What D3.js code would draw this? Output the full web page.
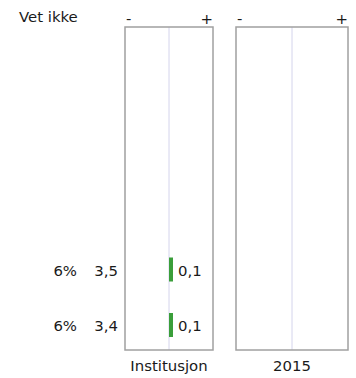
<!DOCTYPE html>
<html><head><meta charset="utf-8">
<script src="https://cdn.jsdelivr.net/npm/d3@7"></script>
<style>body{margin:0;background:#fff}svg{display:block}text{font-family:"DejaVu Sans",Verdana,sans-serif;font-size:14.9px;fill:#1a1a1a}</style>
</head><body><svg id="c" width="356" height="378"></svg>
<script>
const title = "Vet ikke";
const panels = ["Institusjon", "2015"];
const rows = ["r1", "r2"];
const pctLabels = ["6%", "6%"];
const meanLabels = ["3,5", "3,4"];
const diffValues = [0.1, 0.1];
const diffLabels = ["0,1", "0,1"];

(function(){
const svg = d3.select("#c");
const yTop = 27, yBot = 350;
const panelX = d3.scaleOrdinal().domain(panels).range([[125, 213], [236, 348]]);
const yRow = d3.scalePoint().domain(rows).range([269.5, 325]);

svg.append("text").attr("x", 19).attr("y", 22).text(title);

panels.forEach((p, pi) => {
  const [x0, x1] = panelX(p);
  const x = d3.scaleLinear().domain([-1.1, 1.1]).range([x0, x1]);
  const g = svg.append("g");
  g.append("line").attr("x1", x(0)).attr("x2", x(0)).attr("y1", yTop).attr("y2", yBot)
    .attr("stroke", "#d4d4ec").attr("stroke-width", 1);
  g.append("rect").attr("x", x0).attr("y", yTop).attr("width", x1 - x0).attr("height", yBot - yTop)
    .attr("fill", "none").attr("stroke", "#a0a0a0").attr("stroke-width", 1.5);
  g.append("text").attr("x", x0 + 1).attr("y", 24).text("-");
  g.append("text").attr("x", x1).attr("y", 24).attr("text-anchor", "end").text("+");
  g.append("text").attr("x", (x0 + x1) / 2).attr("y", 371).attr("text-anchor", "middle").text(p);
  if (pi === 0) {
    rows.forEach((r, i) => {
      const cy = yRow(r);
      g.append("rect").attr("x", Math.min(x(0), x(diffValues[i]))).attr("y", cy - 12)
        .attr("width", Math.abs(x(diffValues[i]) - x(0))).attr("height", 24).attr("fill", "#3a9e3a");
      g.append("text").attr("x", x(diffValues[i]) + 5).attr("y", cy + 6).text(diffLabels[i]);
    });
  }
});

rows.forEach((r, i) => {
  const cy = yRow(r);
  svg.append("text").attr("x", 77).attr("y", cy + 6).attr("text-anchor", "end").text(pctLabels[i]);
  svg.append("text").attr("x", 118).attr("y", cy + 6).attr("text-anchor", "end").text(meanLabels[i]);
});
})();
</script></body></html>
